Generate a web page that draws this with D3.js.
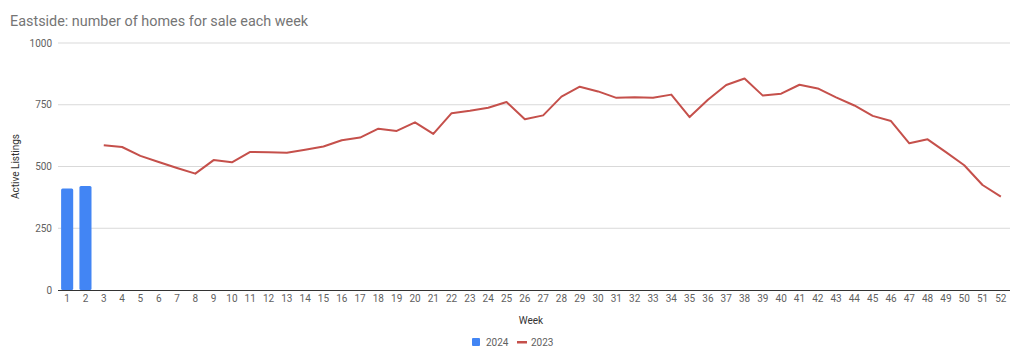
<!DOCTYPE html>
<html><head><meta charset="utf-8">
<script src="https://cdn.jsdelivr.net/npm/d3@7"></script>
<style>body{margin:0;background:#fff;font-family:Roboto,Arial,sans-serif;}</style>
</head><body><svg id="c" width="1024" height="358"></svg>
<script>
const weeks = d3.range(1, 53).map(String);
const bars2024 = [{week:"1", value:411}, {week:"2", value:421}];
const line2023Weeks = d3.range(3, 53).map(String);
const line2023 = [586,579,543,518,494,471,526,517,559,558,556,568,581,606,617,653,644,679,632,716,726,738,761,691,707,783,823,804,778,780,778,791,700,770,830,856,787,795,831,816,780,747,705,684,594,610,558,505,425,378];
const yTicks = [0,250,500,750,1000];

const svg = d3.select("#c");
const L=58, R=1010, T=43, B=290;
const x = d3.scaleBand().domain(weeks).range([L,R]).paddingInner(0.34).paddingOuter(0.17);
const y = d3.scaleLinear().domain([0,1000]).range([B,T]);

svg.append("text").attr("x",10).attr("y",26).attr("fill","#757575").attr("font-size",14.4).text("Eastside: number of homes for sale each week");

svg.append("g").selectAll("line").data(yTicks.filter(d=>d>0)).join("line")
  .attr("x1",L).attr("x2",R).attr("y1",d=>y(d)).attr("y2",d=>y(d)).attr("stroke","#d9d9d9").attr("stroke-width",1);
svg.append("g").selectAll("text").data(yTicks).join("text")
  .attr("x",52).attr("y",d=>y(d)+3.5).attr("text-anchor","end").attr("font-size",10).attr("fill","#616161").text(d=>d);

svg.append("g").selectAll("rect").data(bars2024).join("rect")
  .attr("x",d=>x(d.week)).attr("width",x.bandwidth()).attr("y",d=>y(d.value)).attr("height",d=>B-y(d.value))
  .attr("fill","#4285f4").attr("rx",1.5);

svg.append("line").attr("x1",L).attr("x2",R).attr("y1",B+0.5).attr("y2",B+0.5).attr("stroke","#333").attr("stroke-width",1);

const cx = w => x(w)+x.bandwidth()/2;
svg.append("path").datum(line2023.map((v,i)=>[line2023Weeks[i],v]))
  .attr("d", d3.line().x(d=>cx(d[0])).y(d=>y(d[1])))
  .attr("fill","none").attr("stroke","#c5504b").attr("stroke-width",2).attr("stroke-linejoin","round");

svg.append("g").selectAll("text").data(weeks).join("text")
  .attr("x",d=>cx(d)).attr("y",302).attr("text-anchor","middle").attr("font-size",10).attr("fill","#616161").text(d=>d);

svg.append("text").attr("x",531).attr("y",324).attr("text-anchor","middle").attr("font-size",10).attr("fill","#333").text("Week");
svg.append("text").attr("transform","translate(19,"+((T+B)/2)+") rotate(-90)").attr("text-anchor","middle").attr("font-size",10).attr("fill","#333").text("Active Listings");

const lg = svg.append("g");
lg.append("rect").attr("x",472).attr("y",338).attr("width",8).attr("height",8).attr("rx",1).attr("fill","#4285f4");
lg.append("text").attr("x",486).attr("y",345.5).attr("font-size",10).attr("fill","#616161").text("2024");
lg.append("rect").attr("x",517).attr("y",341).attr("width",10).attr("height",2.5).attr("fill","#c5504b");
lg.append("text").attr("x",531).attr("y",345.5).attr("font-size",10).attr("fill","#616161").text("2023");
</script></body></html>
